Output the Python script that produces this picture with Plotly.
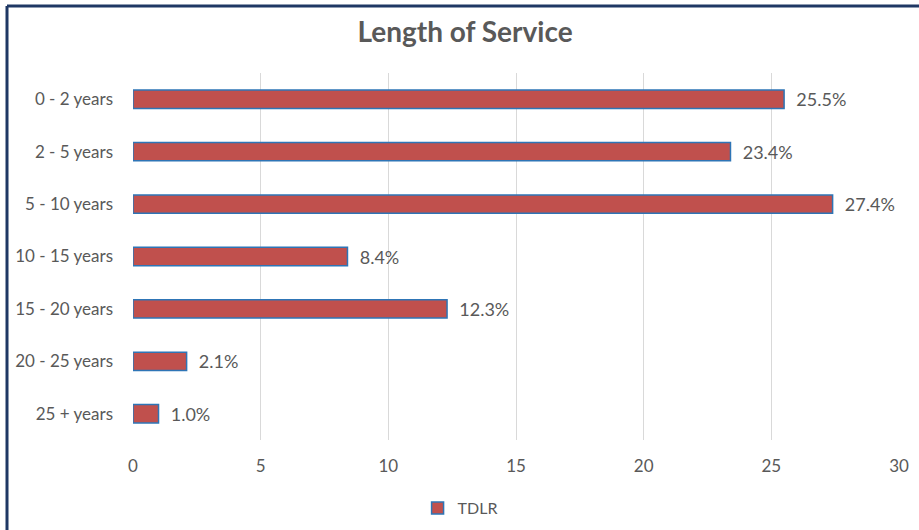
import plotly.graph_objects as go

categories = ["0 - 2 years", "2 - 5 years", "5 - 10 years", "10 - 15 years",
              "15 - 20 years", "20 - 25 years", "25 + years"]
values = [25.5, 23.4, 27.4, 8.4, 12.3, 2.1, 1.0]
series_name = "TDLR"
x_ticks = [0, 5, 10, 15, 20, 25, 30]

grey = "#595959"
font_family = "Lato, Open Sans, sans-serif"

fig = go.Figure()
fig.add_trace(go.Bar(
    x=values, y=categories, orientation="h", name=series_name,
    marker=dict(color="#c0504d", line=dict(color="#2e75b6", width=1.5)),
    texttemplate="\u00a0\u00a0%{x:.1f}%", textposition="outside",
    constraintext="none",
    textfont=dict(size=18, color=grey, family=font_family),
    cliponaxis=False,
))

fig.update_layout(
    width=919, height=530,
    margin=dict(l=133, r=20, t=73, b=90),
    paper_bgcolor="white", plot_bgcolor="white",
    title=dict(text="<b>Length of Service</b>", x=0.506, xanchor="center",
               y=1 - 32 / 530, yanchor="middle",
               font=dict(size=28, color=grey, family=font_family)),
    bargap=0.65,
    showlegend=True,
    legend=dict(orientation="h", x=0.427, xanchor="center",
                yref="container", y=1 - 508 / 530, yanchor="middle",
                font=dict(size=16, color=grey, family=font_family)),
    font=dict(family=font_family, color=grey),
    xaxis=dict(range=[0, 30], tickvals=x_ticks, showgrid=True, gridcolor="#d9d9d9",
               gridwidth=1, zeroline=False, showline=False, automargin=False,
               tickfont=dict(size=17, color=grey), ticklabelstandoff=14),
    yaxis=dict(autorange="reversed", showgrid=False, showline=False, automargin=False,
               tickfont=dict(size=17, color=grey), ticklabelstandoff=19),
)

# outer frame (left and top dark lines)
fig.add_shape(type="line", xref="paper", yref="paper",
              x0=(7 - 133) / 766, x1=(7 - 133) / 766,
              y0=1 + 67 / 367, y1=1 - (530 - 73) / 367 - 0.01,
              line=dict(color="#1f3864", width=3))
fig.add_shape(type="line", xref="paper", yref="paper",
              x0=(7 - 133) / 766, x1=1 + 25 / 766,
              y0=1 + 67 / 367, y1=1 + 67 / 367,
              line=dict(color="#1f3864", width=3))

fig.write_html("out.html", config={"displayModeBar": False},
               post_script="document.body.style.margin='0';")
